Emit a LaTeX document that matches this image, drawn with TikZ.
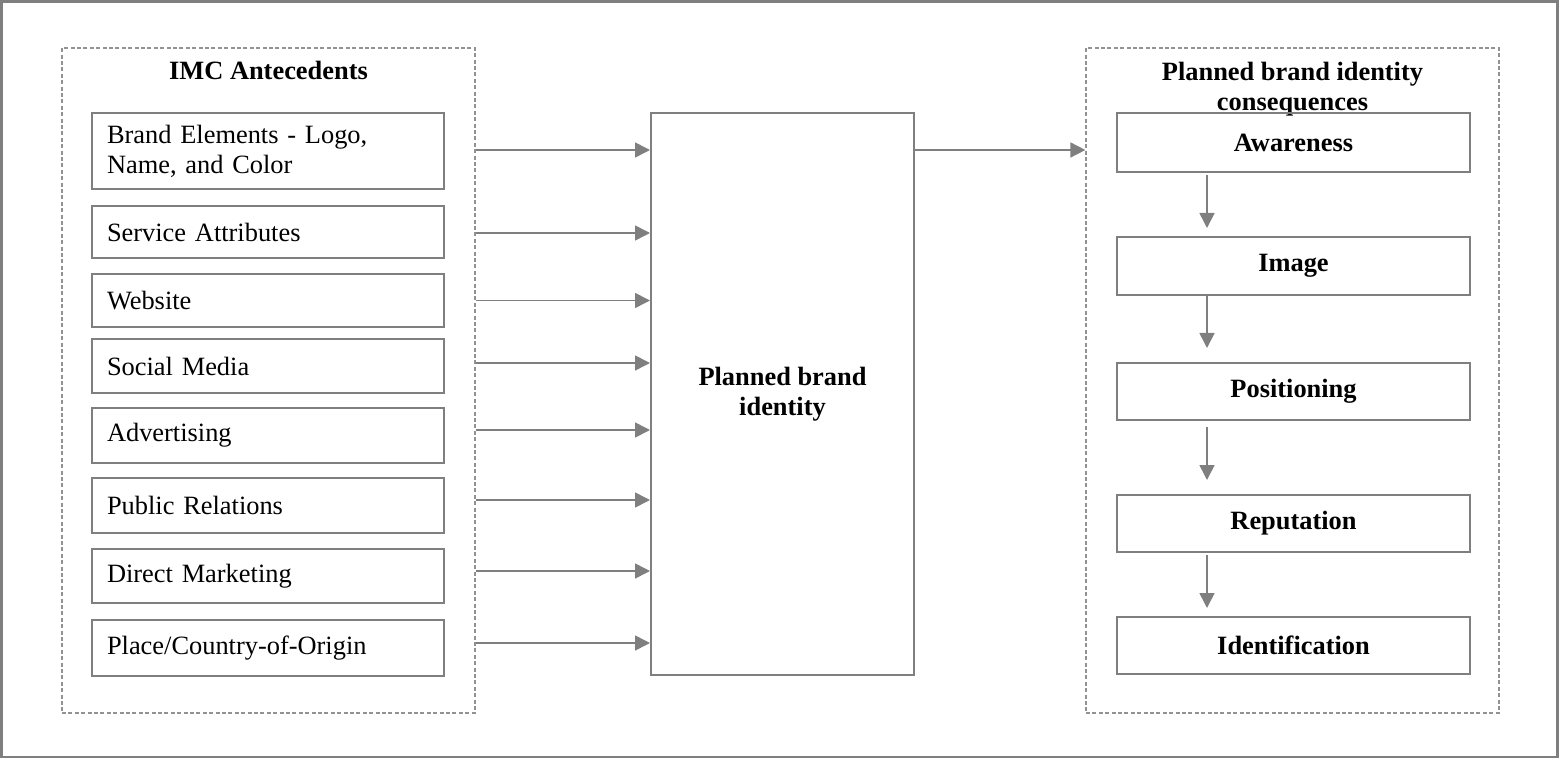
\documentclass[tikz,border=0pt]{standalone}
\usepackage{fontspec}
\setmainfont{Liberation Serif}
\usetikzlibrary{arrows.meta,positioning}
\definecolor{linegray}{HTML}{7F7F7F}

\begin{document}
\begin{tikzpicture}[x=0.5pt, y=-0.5pt,
    font=\fontsize{13.2}{15}\selectfont,
    item/.style={draw=linegray, line width=1pt, text width=161pt, inner xsep=7.5pt,
        inner ysep=0pt, align=left},
    stage/.style={draw=linegray, line width=1pt, minimum width=176.5pt, minimum height=28.5pt,
        inner sep=0pt, font=\fontsize{13.2}{15}\selectfont\bfseries},
    group/.style={draw=linegray!85, dash pattern=on 2pt off 1.2pt, line width=0.6pt,
        minimum width=206.5pt, minimum height=332.5pt, inner sep=0pt},
    heading/.style={inner sep=0pt, align=center, font=\fontsize{13.2}{15}\selectfont\bfseries},
    arr/.style={draw=linegray, line width=0.8pt, -{Triangle[length=7.5pt,width=7.5pt]}}]
    \useasboundingbox (0,0) rectangle (1559,759);
    \draw[linegray, line width=1.2pt] (1.5,1.5) rectangle (1557.5,757);

    % the two dashed groups
    \node[group] (ante) at (268.5,380.5) {};
    \node[group] (cons) at (1292.5,380.5) {};
    \node[heading, anchor=base] (anteTitle) at (268.5,80) {IMC Antecedents};
    \node[heading, anchor=north] (consTitle) at (1292.5,62) {Planned brand identity\\consequences};

    % antecedents
    \node[item, minimum height=38pt] (elem) at (268,151) {Brand Elements - Logo,\\Name, and Color};
    \node[item, minimum height=26pt] (serv) at (268,232) {Service Attributes};
    \node[item, minimum height=26.5pt] (web) at (268,300.5) {Website};
    \node[item, minimum height=27pt] (social) at (268,366) {Social Media};
    \node[item, minimum height=27.5pt] (advert) at (268,435.5) {Advertising};
    \node[item, minimum height=27.5pt] (pr) at (268,505.5) {Public Relations};
    \node[item, minimum height=27pt] (direct) at (268,576) {Direct Marketing};
    \node[item, minimum height=28pt] (place) at (268,648) {Place/Country-of-Origin};

    % planned brand identity
    \node[heading, draw=linegray, line width=1pt, minimum width=131.5pt, minimum height=281pt]
        (pbi) at (782.5,394) {Planned brand\\identity};

    % consequences
    \node[stage, minimum height=29.5pt] (aware) at (1293.5,142.5) {Awareness};
    \node[stage, minimum height=29pt] (image) at (1293.5,266) {Image};
    \node[stage] (posit) at (1293.5,391.5) {Positioning};
    \node[stage] (reput) at (1293.5,523.5) {Reputation};
    \node[stage] (ident) at (1293.5,645.5) {Identification};

    \foreach \n/\dy in {elem/0.5,serv/-0.5,web/0,social/1.5,advert/2.75,pr/2.75,direct/2.5,place/2.5}
        \draw[arr] ([yshift=\dy pt]\n.east -| ante.east) -- ([yshift=\dy pt]\n.east -| pbi.west);
    \draw[arr] ([yshift=0.5pt]elem.east -| pbi.east) -- ([yshift=0.5pt]elem.east -| cons.west);

    \coordinate (ax) at (1207,0);
    \draw[arr, shorten <=1pt, shorten >=4pt] (aware.south -| ax) -- (image.north -| ax);
    \draw[arr, shorten >=7pt] (image.south -| ax) -- (posit.north -| ax);
    \draw[arr, shorten <=3pt, shorten >=7pt] (posit.south -| ax) -- (reput.north -| ax);
    \draw[arr, shorten <=1pt, shorten >=4pt] (reput.south -| ax) -- (ident.north -| ax);
\end{tikzpicture}
\end{document}
